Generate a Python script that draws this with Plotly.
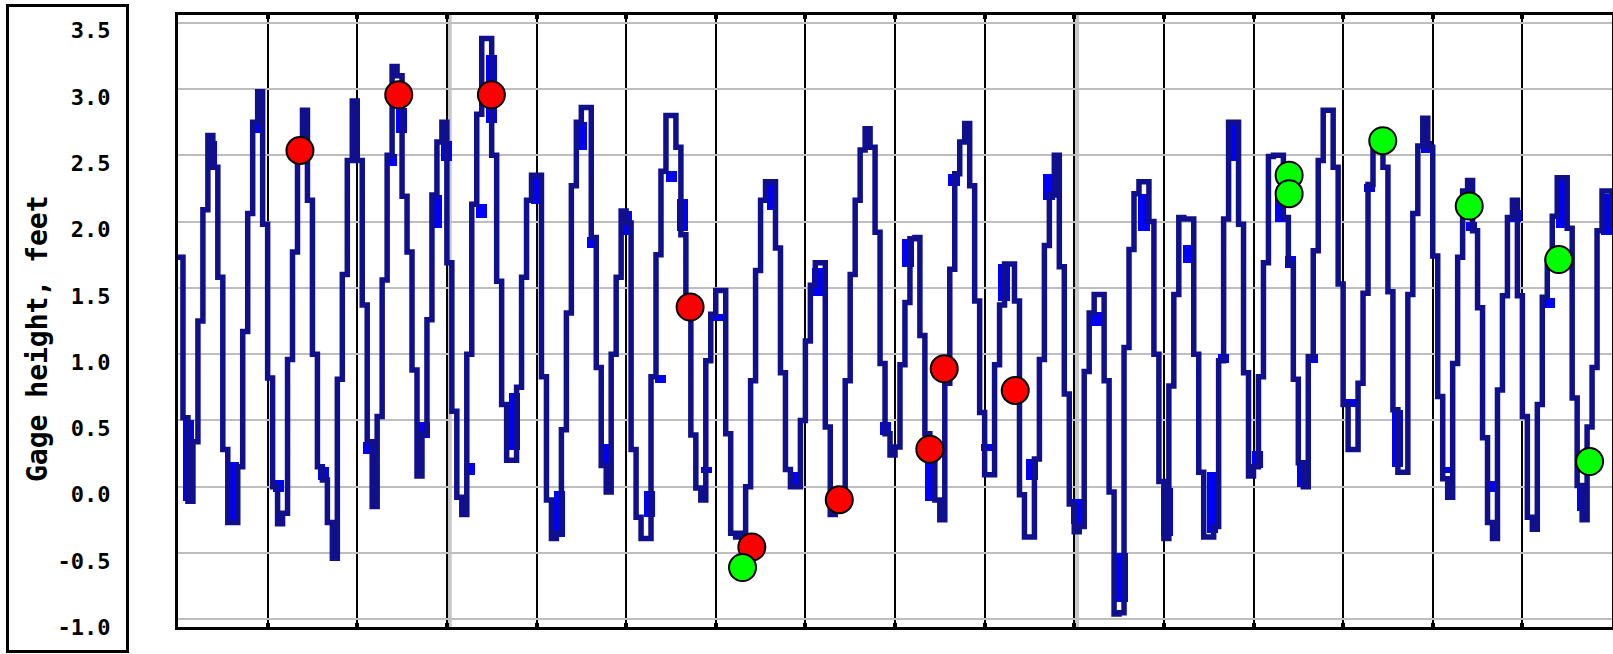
import plotly.graph_objects as go

# ---------------- data ----------------
reading_interval_h = 4 / 3  # step between successive gage readings, hours

gage_ft = [
    # day 0
    1.73, 0.52, -0.11, 0.34, 1.25, 2.09, 2.65, 2.41, 1.58, 0.28, -0.27, -0.27, 0.15, 1.17, 2.06, 2.75, 2.98, 1.98,
    # day 1
    0.82, 0.0, -0.28, -0.2, 0.96, 1.77, 2.5, 2.84, 2.16, 1.0, 0.15, 0.05, -0.27, -0.54, 0.81, 1.6, 2.46, 2.91,
    # day 2
    2.46, 1.37, 0.34, -0.15, 0.53, 1.56, 2.5, 3.17, 3.1, 2.19, 1.77, 0.88, 0.08, 0.4, 1.26, 2.2, 2.6, 2.75,
    # day 3
    1.69, 0.57, -0.08, -0.21, 1.0, 2.13, 2.81, 3.38, 3.38, 2.5, 1.55, 0.62, 0.2, 0.2, 0.75, 1.58, 2.16, 2.35,
    # day 4
    2.35, 0.83, -0.1, -0.39, -0.35, 0.43, 1.31, 2.27, 2.75, 2.86, 2.86, 1.88, 0.9, 0.16, -0.04, 1.0, 1.58, 2.08,
    # day 5
    1.99, 0.28, -0.23, -0.39, -0.39, 0.83, 1.75, 2.38, 2.8, 2.8, 2.56, 1.9, 1.35, 0.39, -0.01, -0.1, 0.95, 1.3,
    # day 6
    1.48, 1.48, 0.4, -0.35, -0.38, -0.35, 0.0, 0.8, 1.63, 2.16, 2.3, 2.3, 1.8, 0.86, 0.13, 0.0, 0.0, 0.5,
    # day 7
    1.1, 1.52, 1.69, 1.69, 0.45, -0.21, -0.1, -0.15, 0.8, 1.6, 2.16, 2.54, 2.7, 2.56, 1.92, 0.93, 0.4, 0.24,
    # day 8
    0.3, 0.92, 1.39, 1.87, 1.88, 1.14, 0.4, 0.28, -0.1, -0.25, 0.78, 1.64, 2.36, 2.6, 2.74, 2.27, 1.4, 0.56,
    # day 9
    0.09, 0.09, 0.92, 1.37, 1.68, 1.68, 1.4, -0.06, -0.38, -0.38, 0.21, 0.96, 1.82, 2.2, 2.5, 1.66, 0.7, -0.13,
    # day 10
    -0.34, -0.3, 0.87, 1.31, 1.45, 1.45, 0.8, -0.04, -0.96, -0.95, 1.05, 1.79, 2.21, 2.3, 2.3, 2.0, 1.0, 0.04,
    # day 11
    -0.39, 0.76, 1.45, 2.03, 2.02, 2.02, 1.0, 0.11, -0.38, -0.38, -0.3, 0.95, 2.02, 2.75, 2.75, 1.98, 0.86, 0.08,
    # day 12
    0.15, 0.83, 1.69, 2.49, 2.5, 2.5, 2.03, 1.68, 0.81, 0.18, 0.0, 0.98, 1.78, 2.46, 2.84, 2.84, 2.41, 1.53,
    # day 13
    0.62, 0.28, 0.28, 0.78, 1.46, 2.28, 2.61, 2.68, 2.41, 1.47, 0.58, 0.11, 0.11, 1.45, 2.06, 2.57, 2.78, 2.56,
    # day 14
    1.74, 0.68, 0.06, -0.08, 0.93, 1.73, 2.23, 2.31, 1.93, 1.35, 0.37, -0.27, -0.39, 0.73, 1.44, 2.03, 2.16, 1.44,
    # day 15
    0.53, -0.23, -0.32, 0.62, 1.43, 1.7, 2.04, 2.33, 2.33, 1.95, 0.67, 0.01, -0.25, 0.45, 0.9, 1.93, 2.23, 2.23, 1.95,
]

# second (bright blue) record, visible only where it departs from the main trace
blue_hours = [2.81, 8.98, 14.87, 21.17, 26.93, 38.98, 51.04, 57.2, 59.88, 66.05, 69.26, 71.94, 78.1, 81.32,
              84.0, 90.16, 96.05, 102.21, 108.11, 111.06, 114.54, 120.17, 126.33, 129.28, 132.22, 135.17,
              141.6, 144.55, 159.29, 165.72, 171.34, 189.56, 195.46, 201.62, 207.78, 216.63, 221.18, 228.68,
              233.24, 240.74, 246.1, 252.8, 258.69, 264.86, 270.75, 276.92, 279.86, 282.81, 288.97, 295.13,
              297.81, 301.03, 303.71, 313.89, 318.98, 326.48, 334.25, 339.88, 346.31, 351.94, 358.1, 367.21,
              370.43, 376.05, 382.48]
blue_low = [-0.11, 2.41, -0.27, 2.67, -0.04, 0.05, 0.25, 2.42, 2.67, 0.37, 1.95, 2.46, 0.09, 2.03,
            2.74, 0.28, 2.13, -0.38, 2.54, 1.8, 0.16, 1.9, -0.23, 0.78, 2.3, 1.93,
            0.1, 1.25, 2.09, 0.0, 1.44, 0.39, 1.66, -0.11, 2.27, 0.27, 1.4, 0.05,
            2.16, -0.28, 1.21, -0.87, 1.93, -0.37, 1.69, -0.35, 0.93, 2.46, 0.14, 2.0,
            1.65, 0.0, 0.93, 0.6, 2.22, 0.15, 2.52, 0.1, 1.93, -0.04, 2.0, 1.35,
            1.95, -0.18, 1.9]
blue_high = [0.5, 2.61, 0.19, 2.75, 0.05, 0.15, 0.34, 2.51, 2.86, 0.49, 2.2, 2.61, 0.18, 2.13,
             3.26, 0.71, 2.35, -0.03, 2.75, 1.88, 0.32, 2.08, -0.03, 0.84, 2.38, 2.17,
             0.15, 1.3, 2.3, 0.11, 1.65, 0.49, 1.87, 0.18, 2.36, 0.32, 1.68, 0.21,
             2.36, -0.09, 1.32, -0.5, 2.21, -0.01, 1.82, 0.11, 1.0, 2.75, 0.27, 2.23,
             1.74, 0.18, 1.0, 0.66, 2.28, 0.58, 2.61, 0.15, 2.0, 0.04, 2.09, 1.42,
             2.33, 0.03, 2.21]

# discrete measurements
red_hours = [32.66, 59.11, 83.92, 137.13, 153.66, 177.08, 201.32, 205.18, 224.2]
red_ft = [2.536, 2.956, 2.956, 1.355, -0.455, -0.098, 0.283, 0.889, 0.726]
green_hours = [151.17, 297.54, 297.54, 322.62, 345.77, 369.75, 378.0]
green_ft = [-0.61, 2.35, 2.21, 2.61, 2.117, 1.713, 0.19]

y_tick_values = [-1.0, -0.5, 0.0, 0.5, 1.0, 1.5, 2.0, 2.5, 3.0, 3.5]
y_tick_labels = ["-1.0", "-0.5", "0.0", "0.5", "1.0", "1.5", "2.0", "2.5", "3.0", "3.5"]
day_boundaries_h = list(range(0, 385, 24))
week_boundaries_h = [72, 240]
y_title = "Gage height, feet"

# ---------------- figure ----------------
W, H = 1613, 654
ML, MR, MT, MB = 178, 1, 15, 27
PW, PH = W - ML - MR, H - MT - MB

hours = [i * reading_interval_h for i in range(len(gage_ft))]

fig = go.Figure()

fig.add_trace(go.Bar(
    x=blue_hours,
    y=[max(h - l, 0.04) for l, h in zip(blue_low, blue_high)],
    base=blue_low,
    width=3.0,
    marker=dict(color="#0000ff", line=dict(width=0)),
    hoverinfo="skip",
))

fig.add_trace(go.Scatter(
    x=hours, y=gage_ft, mode="lines",
    line=dict(shape="hv", color="#10108c", width=5.5),
    hoverinfo="skip",
))

fig.add_trace(go.Scatter(
    x=red_hours, y=red_ft, mode="markers",
    marker=dict(size=27, color="#ff0000", line=dict(color="black", width=2)),
))
fig.add_trace(go.Scatter(
    x=green_hours, y=green_ft, mode="markers",
    marker=dict(size=27, color="#00ff00", line=dict(color="black", width=2)),
))

shapes = []
for wk in week_boundaries_h:
    shapes.append(dict(type="rect", xref="x", yref="paper", x0=wk, x1=wk + 1.3, y0=0, y1=1,
                       fillcolor="#c8c8c8", line=dict(width=0), layer="below"))
# box around the y-axis labels
shapes.append(dict(type="rect", xref="paper", yref="paper",
                   x0=(7.5 - ML) / PW, x1=(127.5 - ML) / PW,
                   y0=1 - (651.5 - MT) / PH, y1=1 - (5.5 - MT) / PH,
                   line=dict(color="black", width=3), fillcolor="rgba(0,0,0,0)", layer="above"))

mono = "DejaVu Sans Mono"

fig.update_layout(
    width=W, height=H,
    margin=dict(l=ML, r=MR, t=MT, b=MB, pad=0),
    paper_bgcolor="white", plot_bgcolor="white",
    showlegend=False,
    hovermode=False,
    bargap=0,
    shapes=shapes,
    annotations=[dict(
        text=y_title, xref="paper", yref="paper",
        x=(37 - ML) / PW, y=1 - (339 - MT) / PH,
        xanchor="center", yanchor="middle", textangle=-90, showarrow=False,
        font=dict(family=mono, size=28, color="black", weight="bold"),
    )],
)

fig.update_xaxes(
    range=[0, 384],
    tickvals=day_boundaries_h,
    showticklabels=False,
    showgrid=True, gridcolor="black", gridwidth=2,
    showline=True, linecolor="black", linewidth=3, mirror="ticks",
    ticks="inside", ticklen=4, tickwidth=4, tickcolor="black",
    zeroline=False,
)

fig.update_yaxes(
    range=[-1.058, 3.558],
    tickvals=y_tick_values, ticktext=y_tick_labels,
    ticks="", ticklabelstandoff=60, ticklabelshift=8,
    tickfont=dict(family=mono, size=22, color="black", weight="bold"),
    showgrid=True, gridcolor="#bebebe", gridwidth=2,
    showline=True, linecolor="black", linewidth=3, mirror=True,
    zeroline=False, automargin=False,
)

fig.write_html(
    "out.html",
    config={"displayModeBar": False},
    post_script="document.body.style.margin='0px';document.body.style.padding='0px';",
)
